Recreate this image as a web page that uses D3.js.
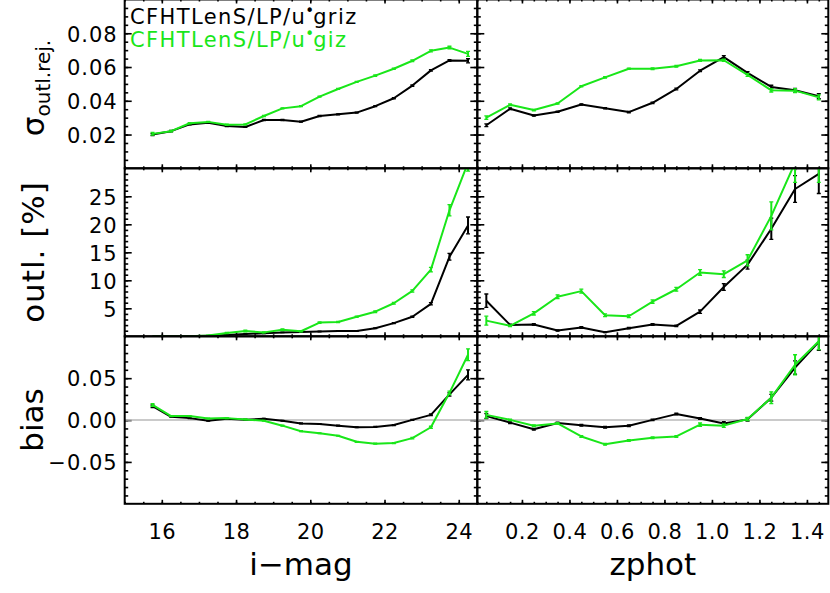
<!DOCTYPE html>
<html><head><meta charset="utf-8">
<script src="https://cdn.jsdelivr.net/npm/d3@7"></script>
<style>
html,body{margin:0;padding:0;background:#fff;}
svg{display:block;font-family:"DejaVu Sans",sans-serif;}
</style></head>
<body><svg id="c" width="830" height="593"></svg>
<script>
// ---------------- data ----------------
const magBins = [15.75,16.25,16.75,17.25,17.75,18.25,18.75,19.25,19.75,20.25,20.75,21.25,21.75,22.25,22.75,23.25,23.75,24.25];
const zBins = [0.05,0.15,0.25,0.35,0.45,0.55,0.65,0.75,0.85,0.95,1.05,1.15,1.25,1.35,1.45];

const seriesNames = ["CFHTLenS/LP/u*griz", "CFHTLenS/LP/u*giz"];
const seriesColors = ["#000000", "#19e619"];

// sigma_outl.rej vs i-mag
const sigMagGriz = [0.0200,0.0220,0.0260,0.0270,0.0250,0.0245,0.0286,0.0286,0.0276,0.0310,0.0320,0.0330,0.0368,0.0415,0.0490,0.0580,0.0639,0.0637];
const sigMagGrizErr = [0.0006,0.0004,0.0003,0.0003,0.0003,0.0003,0.0003,0.0003,0.0003,0.0003,0.0003,0.0003,0.0003,0.0003,0.0004,0.0004,0.0005,0.0012];
const sigMagGiz = [0.0204,0.0220,0.0267,0.0275,0.0258,0.0260,0.0310,0.0355,0.0368,0.0425,0.0470,0.0512,0.0549,0.0590,0.0637,0.0696,0.0715,0.0678];
const sigMagGizErr = [0.0008,0.0004,0.0004,0.0003,0.0003,0.0003,0.0003,0.0003,0.0003,0.0003,0.0003,0.0003,0.0004,0.0004,0.0005,0.0006,0.0008,0.0015];

// sigma_outl.rej vs zphot
const sigZGriz = [0.0255,0.0353,0.0313,0.0335,0.0378,0.0356,0.0333,0.0388,0.0470,0.0578,0.0659,0.0565,0.0482,0.0462,0.0427];
const sigZGrizErr = [0.0008,0.0005,0.0004,0.0004,0.0004,0.0004,0.0004,0.0004,0.0005,0.0005,0.0008,0.0008,0.0010,0.0012,0.0015];
const sigZGiz = [0.0300,0.0376,0.0345,0.0384,0.0486,0.0539,0.0590,0.0590,0.0604,0.0639,0.0640,0.0553,0.0462,0.0460,0.0420];
const sigZGizErr = [0.0010,0.0005,0.0004,0.0004,0.0004,0.0004,0.0004,0.0005,0.0005,0.0006,0.0006,0.0008,0.0010,0.0012,0.0015];

// outlier fraction [%] vs i-mag
const outMagGriz = [0.00,0.00,0.02,0.10,0.25,0.40,0.55,0.70,0.75,0.85,0.95,0.95,1.45,2.35,3.50,5.80,14.2,19.8];
const outMagGrizErr = [0,0,0,0.02,0.05,0.05,0.06,0.06,0.05,0.05,0.05,0.05,0.06,0.08,0.10,0.20,0.6,1.5];
const outMagGiz = [0.00,0.00,0.02,0.15,0.60,0.95,0.70,1.15,0.90,2.45,2.55,3.50,4.40,5.90,8.10,11.9,22.5,31.0];
const outMagGizErr = [0,0,0.02,0.05,0.10,0.15,0.10,0.15,0.10,0.12,0.12,0.12,0.15,0.15,0.20,0.40,1.0,1.5];

// outlier fraction [%] vs zphot
const outZGriz = [6.35,2.04,2.10,1.03,1.56,0.74,1.45,2.10,1.86,4.40,8.80,12.8,19.2,26.3,29.0];
const outZGrizErr = [1.2,0.15,0.15,0.12,0.15,0.10,0.12,0.15,0.15,0.30,0.6,0.8,1.9,2.4,3.5];
const outZGiz = [2.80,1.86,4.10,7.06,8.07,3.75,3.58,6.20,8.40,11.4,11.1,13.56,21.5,31.0,31.5];
const outZGizErr = [0.8,0.15,0.30,0.35,0.35,0.25,0.25,0.30,0.35,0.5,0.6,1.0,2.5,3.5,4.0];

// bias vs i-mag
const biasMagGriz = [0.0165,0.0039,0.0023,-0.0008,0.0015,0.0005,0.0015,-0.0008,-0.0040,-0.0047,-0.0067,-0.0086,-0.0082,-0.0060,0.0002,0.0062,0.0306,0.0540];
const biasMagGrizErr = [0.0015,0.0005,0.0005,0.0005,0.0005,0.0005,0.0005,0.0005,0.0005,0.0005,0.0005,0.0005,0.0005,0.0006,0.0007,0.0010,0.0020,0.0060];
const biasMagGiz = [0.0180,0.0047,0.0047,0.0019,0.0023,0.0008,-0.0008,-0.0067,-0.0133,-0.0157,-0.0188,-0.0260,-0.0282,-0.0275,-0.0216,-0.0086,0.0325,0.0780];
const biasMagGizErr = [0.0015,0.0005,0.0005,0.0005,0.0005,0.0005,0.0005,0.0005,0.0005,0.0005,0.0005,0.0005,0.0005,0.0006,0.0008,0.0012,0.0020,0.0070];

// bias vs zphot
const biasZGriz = [0.0047,-0.0031,-0.0110,-0.0035,-0.0063,-0.0086,-0.0067,0.0002,0.0071,0.0019,-0.0040,0.0008,0.0267,0.0627,0.0933];
const biasZGrizErr = [0.003,0.001,0.001,0.001,0.001,0.001,0.001,0.001,0.001,0.001,0.002,0.002,0.004,0.008,0.010];
const biasZGiz = [0.0062,0.0002,-0.0067,-0.0040,-0.0196,-0.0290,-0.0243,-0.0212,-0.0196,-0.0055,-0.0067,0.0012,0.0267,0.0660,0.0940];
const biasZGizErr = [0.004,0.001,0.001,0.001,0.001,0.001,0.001,0.001,0.001,0.002,0.002,0.002,0.007,0.012,0.010];

// tick labels
const magTicks = [16,18,20,22,24];
const zTicks = [0.2,0.4,0.6,0.8,1.0,1.2,1.4];
const sigTicks = [0.02,0.04,0.06,0.08];
const outTicks = [5,10,15,20,25];
const biasTicks = [-0.05,0.00,0.05];

const xTitles = ["i\u2212mag", "zphot"];

// ---------------- layout ----------------
const svg = d3.select("#c");
const colX = [[124.7, 477.3], [477.3, 828.3]];
const rowY = [[-0.5, 168.3], [168.3, 336.3], [336.3, 503.8]];

const xScales = [
  d3.scaleLinear().domain([15, 24.5]).range(colX[0]),
  d3.scaleLinear().domain([0.012, 1.49]).range(colX[1])
];
const yScales = [
  d3.scaleLinear().domain([0, 0.1]).range([rowY[0][1], rowY[0][0]]),
  d3.scaleLinear().domain([0, 30]).range([rowY[1][1], rowY[1][0]]),
  d3.scaleLinear().domain([-0.1, 0.1]).range([rowY[2][1], rowY[2][0]])
];
const xMajor = [magTicks, zTicks];
const xMinor = [d3.range(30, 50).map(d => d / 2), d3.range(1, 30).map(d => d * 0.05)];
const yMajor = [sigTicks, outTicks, biasTicks];
const yMinor = [d3.range(1, 20).map(d => d * 0.005), d3.range(1, 30), d3.range(-9, 10).map(d => d * 0.01)];
const yFmt = [d3.format(".2f"), d3.format("d"), d3.format(".2f")];
const xFmt = [d3.format("d"), d3.format(".1f")];
const xBins = [magBins, zBins];

const panelData = [
  [ [[sigMagGriz, sigMagGrizErr], [sigMagGiz, sigMagGizErr]], [[sigZGriz, sigZGrizErr], [sigZGiz, sigZGizErr]] ],
  [ [[outMagGriz, outMagGrizErr], [outMagGiz, outMagGizErr]], [[outZGriz, outZGrizErr], [outZGiz, outZGizErr]] ],
  [ [[biasMagGriz, biasMagGrizErr], [biasMagGiz, biasMagGizErr]], [[biasZGriz, biasZGrizErr], [biasZGiz, biasZGizErr]] ]
];

const yTickMaj = 7, yTickMin = 3.5, xTickMaj = 4, xTickMin = 2;

function clean(g) {
  g.select(".domain").remove();
  g.selectAll(".tick line").attr("stroke", "#000").attr("stroke-width", 1.6);
}

const defs = svg.append("defs");

for (let r = 0; r < 3; r++) {
  for (let c = 0; c < 2; c++) {
    const x = xScales[c], y = yScales[r];
    const [x0, x1] = colX[c], [y0, y1] = rowY[r];
    const g = svg.append("g");

    // ticks on four sides, pointing inward
    const sides = [
      [() => d3.axisLeft(y), `translate(${x0},0)`, yMajor[r], yMinor[r], yTickMaj, yTickMin],
      [() => d3.axisRight(y), `translate(${x1},0)`, yMajor[r], yMinor[r], yTickMaj, yTickMin],
      [() => d3.axisBottom(x), `translate(0,${y1})`, xMajor[c], xMinor[c], xTickMaj, xTickMin],
      [() => d3.axisTop(x), `translate(0,${y0})`, xMajor[c], xMinor[c], xTickMaj, xTickMin]
    ];
    sides.forEach(([mk, tr, maj, mn, lMaj, lMin]) => {
      const gm = g.append("g").attr("transform", tr)
        .call(mk().tickValues(mn).tickSize(-lMin).tickFormat("")); clean(gm);
      const gM = g.append("g").attr("transform", tr)
        .call(mk().tickValues(maj).tickSize(-lMaj).tickFormat("")); clean(gM);
    });

    // tick labels
    if (c === 0) {
      const gl = g.append("g").attr("transform", `translate(${x0},0)`)
        .call(d3.axisLeft(y).tickValues(yMajor[r]).tickSize(0).tickPadding(7).tickFormat(yFmt[r]));
      gl.select(".domain").remove();
      gl.selectAll("text").attr("font-size", 21).attr("font-family", "DejaVu Sans")
        .attr("fill", "#000").attr("letter-spacing", "1px").attr("dy", "0.37em");
    }
    if (r === 2) {
      const gb = g.append("g").attr("transform", `translate(0,${y1})`)
        .call(d3.axisBottom(x).tickValues(xMajor[c]).tickSize(0).tickPadding(20).tickFormat(xFmt[c]));
      gb.select(".domain").remove();
      gb.selectAll("text").attr("font-size", 21).attr("font-family", "DejaVu Sans")
        .attr("fill", "#000").attr("letter-spacing", "0.5px");
    }

    // clip
    const cid = `clip${r}${c}`;
    defs.append("clipPath").attr("id", cid).append("rect")
      .attr("x", x0).attr("y", y0).attr("width", x1 - x0).attr("height", y1 - y0);
    const pg = g.append("g").attr("clip-path", `url(#${cid})`);

    if (r === 2) {
      pg.append("line").attr("x1", x0).attr("x2", x1).attr("y1", y(0)).attr("y2", y(0))
        .attr("stroke", "#b8b8b8").attr("stroke-width", 1.6);
    }

    panelData[r][c].forEach(([vals, errs], s) => {
      const pts = xBins[c].map((xv, i) => ({x: xv, v: vals[i], e: errs[i]}));
      const col = seriesColors[s];
      pg.append("path").datum(pts)
        .attr("fill", "none").attr("stroke", col).attr("stroke-width", 2)
        .attr("stroke-linejoin", "round")
        .attr("d", d3.line().x(d => x(d.x)).y(d => y(d.v)));
      const eb = pg.append("g").attr("stroke", col).attr("stroke-width", 2);
      pts.forEach(d => {
        if (!d.e) return;
        eb.append("line").attr("x1", x(d.x)).attr("x2", x(d.x))
          .attr("y1", y(d.v - d.e)).attr("y2", y(d.v + d.e));
        [d.v - d.e, d.v + d.e].forEach(yy => {
          eb.append("line").attr("x1", x(d.x) - 2).attr("x2", x(d.x) + 2)
            .attr("y1", y(yy)).attr("y2", y(yy)).attr("stroke-width", 1.3);
        });
      });
    });

    // frame
    g.append("rect").attr("x", x0).attr("y", y0).attr("width", x1 - x0).attr("height", y1 - y0)
      .attr("fill", "none").attr("stroke", "#000").attr("stroke-width", 2);
  }
}

// legend
function legendLine(i, yBase) {
  const parts = seriesNames[i].split("*");
  const t = svg.append("text").attr("x", 130).attr("y", yBase)
    .attr("font-size", 21).attr("letter-spacing", "1.4px").attr("fill", seriesColors[i]);
  t.append("tspan").text(parts[0]);
  t.append("tspan").attr("dy", -8).attr("dx", -1).attr("font-size", 15).attr("letter-spacing", "0px").text("\u2022");
  t.append("tspan").attr("dy", 8).attr("dx", -1).text(parts[1]);
}
legendLine(0, 24);
legendLine(1, 46.5);

// y titles
const sigT = svg.append("text").attr("transform", "translate(43.5,88) rotate(-90)")
  .attr("text-anchor", "middle").attr("font-size", 31).attr("fill", "#000");
sigT.append("tspan").text("\u03c3");
sigT.append("tspan").attr("font-size", 20).attr("dy", 6).text("outl.rej.");

svg.append("text").attr("transform", "translate(44,252) rotate(-90)")
  .attr("text-anchor", "middle").attr("font-size", 31).attr("letter-spacing", "1px")
  .attr("fill", "#000").text("outl. [%]");

svg.append("text").attr("transform", "translate(43,420) rotate(-90)")
  .attr("text-anchor", "middle").attr("font-size", 31).attr("fill", "#000").text("bias");

// x titles
[0, 1].forEach(c => {
  svg.append("text").attr("x", (colX[c][0] + colX[c][1]) / 2).attr("y", 575)
    .attr("text-anchor", "middle").attr("font-size", 31).attr("fill", "#000").text(xTitles[c]);
});
</script></body></html>
